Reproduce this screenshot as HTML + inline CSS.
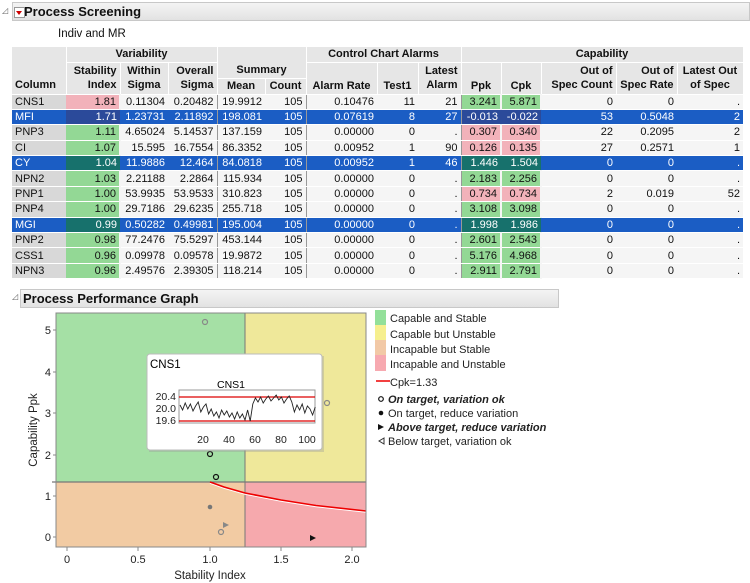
<!DOCTYPE html>
<html><head><meta charset="utf-8"><style>
body{margin:0;width:750px;height:583px;background:#fff;font-family:"Liberation Sans",sans-serif;font-size:11px;color:#111;position:relative;overflow:hidden}
.bar{position:absolute;background:linear-gradient(#f4f4f4,#e2e2e2);border:1px solid #c8c8c8;font-weight:bold;font-size:13px;line-height:17px;padding-left:11px}
.tri{position:absolute;width:9px;height:9px;border:1px solid #999;background:#fff;left:1px;top:4px}
.tri:after{content:"";position:absolute;left:1px;top:3px;border-left:3.5px solid transparent;border-right:3.5px solid transparent;border-top:4px solid #c00}
table{position:absolute;left:12px;top:47px;border-collapse:collapse;table-layout:fixed}
td{padding:0 3px 0 2px;white-space:nowrap;overflow:hidden;text-align:right;height:14.4px;line-height:14px}
tr.r{height:15.4px}
th{background:#e6e6e6;font-weight:bold;padding:0 3px;line-height:14px;text-align:center;border-right:1px solid #fff;border-bottom:1px solid #fff}
td{background:#f5f5f5;border-bottom:1px solid #fff}
td.c{background:#d8d8d8;text-align:left;padding-left:3px}
td.g{background:#93d895;border-right:2px solid #f5f5f5}
td.p{background:#f2b2ba;border-right:2px solid #f5f5f5}
tr.s td{background:#1b5dc4;color:#fff}
tr.s td.c{background:#1b5dc4}
tr.s td.sp{background:#2b4a9a}
tr.s td.sg{background:#17716c}
.sep{border-right:1px solid #999!important}
</style></head><body>
<div style="position:absolute;left:2px;top:6px;font-size:8px;color:#666">◿</div>
<div class="bar" style="left:12px;top:2px;width:725px;height:17px"><div class="tri"></div>Process Screening</div>
<div style="position:absolute;left:58px;top:28px;font-size:11.5px">Indiv and MR</div>
<table>
<colgroup><col style="width:54px"><col style="width:54px"><col style="width:48px"><col style="width:49px"><col style="width:48px"><col style="width:41px"><col style="width:71px"><col style="width:41px"><col style="width:43px"><col style="width:40px"><col style="width:40px"><col style="width:75px"><col style="width:61px"><col style="width:66px"></colgroup>
<tr style="height:15px"><th rowspan="3" style="text-align:left;vertical-align:bottom;padding-bottom:2px">Column</th><th colspan="3">Variability</th><th colspan="2" style="border-bottom:none"></th><th colspan="3">Control Chart Alarms</th><th colspan="5">Capability</th></tr>
<tr style="height:16px"><th rowspan="2" style="text-align:right">Stability<br>Index</th><th rowspan="2">Within<br>Sigma</th><th rowspan="2" style="text-align:right">Overall<br>Sigma</th><th colspan="2">Summary</th><th rowspan="2" style="vertical-align:bottom;padding-bottom:1px">Alarm Rate</th><th rowspan="2" style="vertical-align:bottom;padding-bottom:1px">Test1</th><th rowspan="2" style="text-align:right">Latest<br>Alarm</th><th rowspan="2" style="vertical-align:bottom;padding-bottom:1px">Ppk</th><th rowspan="2" style="vertical-align:bottom;padding-bottom:1px">Cpk</th><th rowspan="2" style="text-align:right">Out of<br>Spec Count</th><th rowspan="2" style="text-align:right">Out of<br>Spec Rate</th><th rowspan="2">Latest Out<br>of Spec</th></tr>
<tr style="height:16px"><th>Mean</th><th>Count</th></tr>
<tr class="r"><td class="c">CNS1</td><td class="p">1.81</td><td>0.11304</td><td class="sep">0.20482</td><td>19.9912</td><td class="sep">105</td><td>0.10476</td><td>11</td><td class="sep">21</td><td class="g">3.241</td><td class="g">5.871</td><td>0</td><td>0</td><td>.</td></tr>
<tr class="r s"><td class="c">MFI</td><td class="sp">1.71</td><td>1.23731</td><td class="sep">2.11892</td><td>198.081</td><td class="sep">105</td><td>0.07619</td><td>8</td><td class="sep">27</td><td class="sp">-0.013</td><td class="sp">-0.022</td><td>53</td><td>0.5048</td><td>2</td></tr>
<tr class="r"><td class="c">PNP3</td><td class="g">1.11</td><td>4.65024</td><td class="sep">5.14537</td><td>137.159</td><td class="sep">105</td><td>0.00000</td><td>0</td><td class="sep">.</td><td class="p">0.307</td><td class="p">0.340</td><td>22</td><td>0.2095</td><td>2</td></tr>
<tr class="r"><td class="c">CI</td><td class="g">1.07</td><td>15.595</td><td class="sep">16.7554</td><td>86.3352</td><td class="sep">105</td><td>0.00952</td><td>1</td><td class="sep">90</td><td class="p">0.126</td><td class="p">0.135</td><td>27</td><td>0.2571</td><td>1</td></tr>
<tr class="r s"><td class="c">CY</td><td class="sg">1.04</td><td>11.9886</td><td class="sep">12.464</td><td>84.0818</td><td class="sep">105</td><td>0.00952</td><td>1</td><td class="sep">46</td><td class="sg">1.446</td><td class="sg">1.504</td><td>0</td><td>0</td><td>.</td></tr>
<tr class="r"><td class="c">NPN2</td><td class="g">1.03</td><td>2.21188</td><td class="sep">2.2864</td><td>115.934</td><td class="sep">105</td><td>0.00000</td><td>0</td><td class="sep">.</td><td class="g">2.183</td><td class="g">2.256</td><td>0</td><td>0</td><td>.</td></tr>
<tr class="r"><td class="c">PNP1</td><td class="g">1.00</td><td>53.9935</td><td class="sep">53.9533</td><td>310.823</td><td class="sep">105</td><td>0.00000</td><td>0</td><td class="sep">.</td><td class="p">0.734</td><td class="p">0.734</td><td>2</td><td>0.019</td><td>52</td></tr>
<tr class="r"><td class="c">PNP4</td><td class="g">1.00</td><td>29.7186</td><td class="sep">29.6235</td><td>255.718</td><td class="sep">105</td><td>0.00000</td><td>0</td><td class="sep">.</td><td class="g">3.108</td><td class="g">3.098</td><td>0</td><td>0</td><td>.</td></tr>
<tr class="r s"><td class="c">MGI</td><td class="sg">0.99</td><td>0.50282</td><td class="sep">0.49981</td><td>195.004</td><td class="sep">105</td><td>0.00000</td><td>0</td><td class="sep">.</td><td class="sg">1.998</td><td class="sg">1.986</td><td>0</td><td>0</td><td>.</td></tr>
<tr class="r"><td class="c">PNP2</td><td class="g">0.98</td><td>77.2476</td><td class="sep">75.5297</td><td>453.144</td><td class="sep">105</td><td>0.00000</td><td>0</td><td class="sep">.</td><td class="g">2.601</td><td class="g">2.543</td><td>0</td><td>0</td><td>.</td></tr>
<tr class="r"><td class="c">CSS1</td><td class="g">0.96</td><td>0.09978</td><td class="sep">0.09578</td><td>19.9872</td><td class="sep">105</td><td>0.00000</td><td>0</td><td class="sep">.</td><td class="g">5.176</td><td class="g">4.968</td><td>0</td><td>0</td><td>.</td></tr>
<tr class="r"><td class="c">NPN3</td><td class="g">0.96</td><td>2.49576</td><td class="sep">2.39305</td><td>118.214</td><td class="sep">105</td><td>0.00000</td><td>0</td><td class="sep">.</td><td class="g">2.911</td><td class="g">2.791</td><td>0</td><td>0</td><td>.</td></tr>
</table>
<div style="position:absolute;left:12px;top:292px;font-size:8px;color:#666">◿</div>
<div class="bar" style="left:20px;top:289px;width:535px;height:17px;padding-left:2px">Process Performance Graph</div>

<svg width="750" height="583" style="position:absolute;left:0;top:0" font-family="Liberation Sans, sans-serif" font-size="11">
<rect x="56" y="313" width="189" height="169" fill="#a5e0a5"/>
<rect x="245" y="313" width="121" height="169" fill="#efe89a"/>
<rect x="56" y="482" width="189" height="65" fill="#f2cba3"/>
<rect x="245" y="482" width="121" height="65" fill="#f6a9ad"/>
<line x1="245" y1="313" x2="245" y2="547" stroke="#777"/>
<line x1="52" y1="482" x2="366" y2="482" stroke="#777" stroke-width="1.3"/>
<polyline points="210,483 224,488 245,494 281,501 316,506.5 366,512" fill="none" stroke="#fff" stroke-width="1.5"/>
<polyline points="210,482 224,487 245,493 281,500 316,505.5 366,511" fill="none" stroke="#e00" stroke-width="1.6"/>
<rect x="56" y="313" width="310" height="234" fill="none" stroke="#888"/>
<g fill="#222" text-anchor="end">
<text x="51" y="541">0</text><text x="51" y="500">1</text><text x="51" y="459">2</text><text x="51" y="417">3</text><text x="51" y="376">4</text><text x="51" y="334">5</text></g>
<g stroke="#888"><line x1="53" y1="537" x2="56" y2="537"/><line x1="53" y1="496" x2="56" y2="496"/><line x1="53" y1="455" x2="56" y2="455"/><line x1="53" y1="413" x2="56" y2="413"/><line x1="53" y1="372" x2="56" y2="372"/><line x1="53" y1="330" x2="56" y2="330"/>
<line x1="67" y1="547" x2="67" y2="551"/><line x1="138" y1="547" x2="138" y2="551"/><line x1="210" y1="547" x2="210" y2="551"/><line x1="281" y1="547" x2="281" y2="551"/><line x1="352" y1="547" x2="352" y2="551"/></g>
<g fill="#222" text-anchor="middle"><text x="67" y="563">0</text><text x="138" y="563">0.5</text><text x="210" y="563">1.0</text><text x="281" y="563">1.5</text><text x="352" y="563">2.0</text>
<text x="210" y="579" font-size="11.5">Stability Index</text></g>
<text transform="translate(37,430) rotate(-90)" text-anchor="middle" font-size="11.5" fill="#222">Capability Ppk</text>
<g fill="none" stroke-width="1.2">
<circle cx="205" cy="322" r="2.5" stroke="#888"/><circle cx="327" cy="403" r="2.5" stroke="#888"/>
<circle cx="210" cy="454" r="2.5" stroke="#111"/><circle cx="216" cy="477" r="2.5" stroke="#111"/>
<circle cx="221" cy="532" r="2.5" stroke="#888"/></g>
<circle cx="210" cy="507" r="2.3" fill="#777"/>
<path d="M223,522 l6,3 l-6,3z" fill="#888"/>
<path d="M310,535 l6,3 l-6,3z" fill="#111"/>
<rect x="149" y="356" width="175" height="96" fill="#999" opacity="0.35"/>
<rect x="147" y="354" width="175" height="96" rx="3" fill="#fff" stroke="#bbb"/>
<text x="150" y="368" font-size="11.5">CNS1</text>
<text x="231" y="388" text-anchor="middle" font-size="10.5">CNS1</text>
<rect x="179" y="390" width="136" height="33" fill="#fff" stroke="#999"/>
<line x1="179" y1="397" x2="315" y2="397" stroke="#d00" stroke-width="1.2"/>
<line x1="179" y1="421" x2="315" y2="421" stroke="#d00" stroke-width="1.2"/>
<polyline transform="translate(180,0) scale(2.6,1)" vector-effect="non-scaling-stroke" fill="none" stroke="#222" stroke-width="0.9" points="0,405 1,410 2,403 3,409 4,404 5,411 6,406 7,402 8,412 9,407 10,404 11,414 12,409 13,416 14,412 15,418 16,410 17,415 18,411 19,417 20,413 21,419 22,412 23,418 24,414 25,420 26,410 27,421 28,404 29,398 30,402 31,397 32,403 33,399 34,396 35,401 36,398 37,395 38,400 39,397 40,403 41,399 42,396 43,402 44,412 45,405 46,410 47,404 48,413 49,406 50,409 51,415 52,407"/>
<g font-size="10.5" fill="#222" text-anchor="end"><text x="176" y="400">20.4</text><text x="176" y="412">20.0</text><text x="176" y="424">19.6</text></g>
<g font-size="10.5" fill="#222" text-anchor="middle"><text x="203" y="443">20</text><text x="229" y="443">40</text><text x="255" y="443">60</text><text x="281" y="443">80</text><text x="307" y="443">100</text></g>
<rect x="375" y="310" width="11" height="15" fill="#93e09a"/><rect x="375" y="325" width="11" height="15" fill="#f6ef8e"/>
<rect x="375" y="340" width="11" height="15" fill="#f2c9a6"/><rect x="375" y="355" width="11" height="16" fill="#f7a9b0"/>
<g fill="#222" font-size="11"><text x="390" y="322">Capable and Stable</text><text x="390" y="338">Capable but Unstable</text><text x="390" y="353">Incapable but Stable</text><text x="390" y="368">Incapable and Unstable</text>
<text x="390" y="386">Cpk=1.33</text>
<text x="388" y="403" font-weight="bold" font-style="italic">On target, variation ok</text>
<text x="388" y="417">On target, reduce variation</text>
<text x="388" y="431" font-weight="bold" font-style="italic">Above target, reduce variation</text>
<text x="388" y="445">Below target, variation ok</text></g>
<line x1="376" y1="381" x2="390" y2="381" stroke="#e00" stroke-width="1.5"/>
<circle cx="381" cy="399" r="2.3" fill="none" stroke="#111" stroke-width="1.2"/>
<circle cx="381" cy="413" r="2.3" fill="#111"/>
<path d="M378,424 l6,3 l-6,3z" fill="#111"/>
<path d="M384,438 l-5,3 l5,3z" fill="none" stroke="#333"/>
</svg>
</body></html>
